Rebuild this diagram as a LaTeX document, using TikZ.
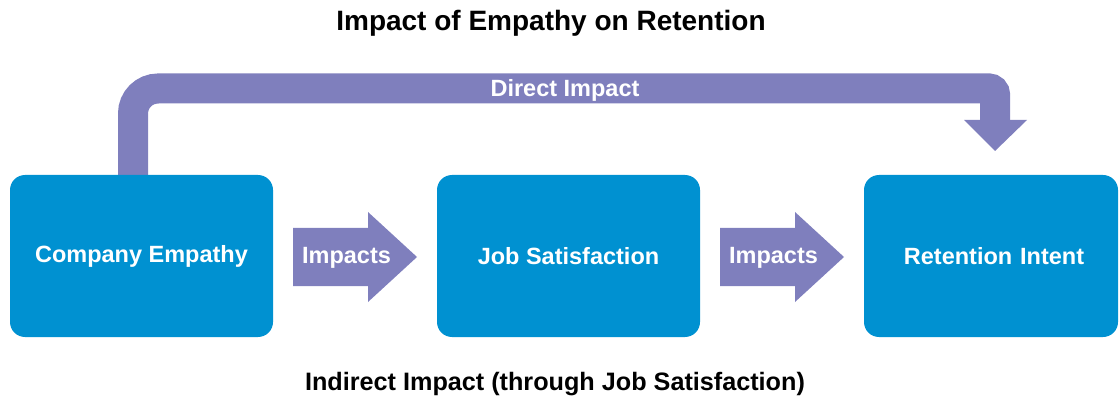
\documentclass[tikz,border=0pt]{standalone}
\usepackage{fontspec}
\setmainfont{Liberation Sans}
\usetikzlibrary{calc}
\definecolor{boxblue}{RGB}{0,145,209}
\definecolor{flowpurple}{RGB}{127,127,189}
\tikzset{
  x=1pt, y=-1pt,
  stage/.style={fill=boxblue, text=white, rounded corners=15pt,
    minimum height=162pt, inner sep=0pt,
    font=\bfseries\fontsize{23.5}{28}\selectfont},
  flowlabel/.style={text=white, inner sep=0pt,
    font=\bfseries\fontsize{23.5}{28}\selectfont},
  heading/.style={text=black, inner sep=0pt}
}
\begin{document}
\begin{tikzpicture}
\useasboundingbox (0,0) rectangle (1119,398);

% titles
\node[heading, font=\bfseries\fontsize{28}{32}\selectfont] (title) at (551,23) {Impact of Empathy on Retention};
\node[heading, font=\bfseries\fontsize{25.2}{30}\selectfont] (subtitle) at (555,384) {Indirect Impact (through Job Satisfaction)};

% stage positions
\coordinate (ceC) at (141.5,256);
\coordinate (jsC) at (568.5,256);
\coordinate (riC) at (991,256);

% direct impact band over the top
\coordinate (bandStart) at (133,176);
\coordinate (bandLeft) at (133,88.5);
\coordinate (bandRight) at (995,88.5);
\coordinate (bandEnd) at (995,122);
\draw[flowpurple, line width=30pt, rounded corners=25pt]
  (bandStart) -- (bandLeft) [rounded corners=6pt] -- (bandRight) -- (bandEnd);
\coordinate (dtip) at (995,151);
\fill[flowpurple] (964,120) -- (1027,120) -- (dtip) -- cycle;
\node[flowlabel] (direct) at (565,90) {Direct Impact};

% stages
\node[stage, minimum width=263pt] (ce) at (ceC) {Company Empathy};
\node[stage, minimum width=263pt] (js) at (jsC) {Job Satisfaction};
\node[stage, minimum width=254pt, text width=254pt, align=center,
  inner xsep=0pt] (ri) at (riC) {\hspace*{6pt}Retention Intent};

% block arrows between stages
\foreach \dx/\nm in {0/a1, 427/a2} {
  \begin{scope}[shift={(\dx,0)}]
    \fill[flowpurple] (293,228) -- (368,228) -- (368,212) -- (417,257)
      -- (368,302) -- (368,286) -- (293,286) -- cycle;
    \node[flowlabel] (\nm) at (346.5,258) {Impacts};
  \end{scope}
}
\end{tikzpicture}
\end{document}
